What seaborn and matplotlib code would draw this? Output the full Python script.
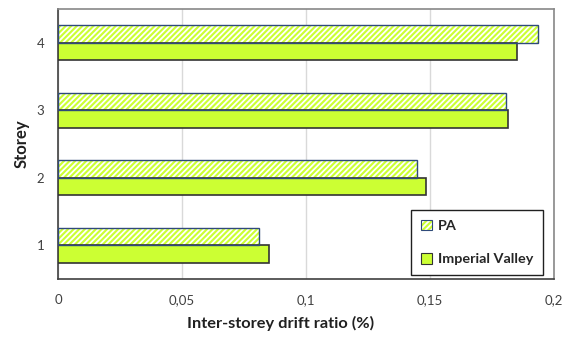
import matplotlib
matplotlib.use("Agg")
import matplotlib.pyplot as plt
from matplotlib.patches import Rectangle, Patch
from matplotlib.ticker import FixedLocator, FixedFormatter
import seaborn as sns
import pandas as pd

# Peak inter-storey drift ratio (%) per storey
storeys = ["4", "3", "2", "1"]
pa_drift = [0.1935, 0.1806, 0.1448, 0.0809]
iv_drift = [0.1850, 0.1814, 0.1484, 0.0849]
series = ["PA", "Imperial Valley"]
x_ticks = [0, 0.05, 0.1, 0.15, 0.2]
x_tick_labels = ["0", "0,05", "0,1", "0,15", "0,2"]

df = pd.DataFrame({
    "Storey": storeys * 2,
    "Drift": pa_drift + iv_drift,
    "Record": [series[0]] * len(storeys) + [series[1]] * len(storeys),
})

sns.set_style("white")
plt.rcParams["font.family"] = ["Lato", "DejaVu Sans"]
plt.rcParams["hatch.linewidth"] = 1.3

FILL = "#CCFF33"
PA_EDGE = "#2F4A7A"
IV_EDGE = "#333333"
HATCH = "//////"


def white_hatch(patch):
    try:
        patch.set_hatchcolor("white")
    except AttributeError:
        patch._hatch_color = (1, 1, 1, 1)


fig = plt.figure(figsize=(5.70, 3.38), dpi=100)
ax = fig.add_axes([0.1018, 0.1746, 0.8701, 0.7988])

sns.barplot(data=df, x="Drift", y="Storey", hue="Record", order=storeys,
            hue_order=series, orient="h", width=0.52, gap=0,
            palette=[FILL, FILL], saturation=1, legend=False, ax=ax, zorder=3)

n = len(storeys)
bars = list(ax.patches)
for i, bar in enumerate(bars):
    if i < n:
        # hatched bar: white diagonal stripes, then a blue outline on top
        bar.set_edgecolor("white")
        bar.set_linewidth(0)
        bar.set_hatch(HATCH)
        white_hatch(bar)
        ax.add_patch(Rectangle(bar.get_xy(), bar.get_width(), bar.get_height(),
                               facecolor="none", edgecolor=PA_EDGE,
                               linewidth=1.0, zorder=4))
    else:
        bar.set_edgecolor(IV_EDGE)
        bar.set_linewidth(1.2)

ax.set_xlim(0, 0.2)
ax.set_ylim(3.5, -0.5)
ax.xaxis.set_major_locator(FixedLocator(x_ticks))
ax.xaxis.set_major_formatter(FixedFormatter(x_tick_labels))
ax.grid(axis="x", color="#D9D9D9", linewidth=1.0, zorder=0)
ax.set_axisbelow(True)
ax.tick_params(axis="both", length=0, labelsize=9.5, labelcolor="#404040")
ax.tick_params(axis="x", pad=11)
ax.tick_params(axis="y", pad=10)

for side, sp in ax.spines.items():
    sp.set_visible(True)
    sp.set_color("#888888")
    sp.set_linewidth(1.2)
ax.spines["left"].set_color("#404040")
ax.spines["bottom"].set_color("#404040")

ax.set_xlabel("Inter-storey drift ratio (%)", fontsize=11.8, fontweight="bold",
              color="#202020")
ax.set_ylabel("Storey", fontsize=12, fontweight="bold", color="#202020")
ax.xaxis.set_label_coords(0.448, -0.137)
ax.yaxis.set_label_coords(-0.058, 0.5)

# legend
pa_handle = Patch(facecolor=FILL, edgecolor=PA_EDGE, hatch="//////", linewidth=0.8)
white_hatch(pa_handle)
iv_handle = Patch(facecolor=FILL, edgecolor=IV_EDGE, linewidth=0.8)
leg = ax.legend([pa_handle, iv_handle], series,
                loc="lower right", bbox_to_anchor=(0.9785, 0.013),
                fancybox=False, framealpha=1,
                edgecolor="#202020", handlelength=0.75, handleheight=0.75,
                handletextpad=0.4, labelspacing=1.45, borderpad=0.7,
                borderaxespad=0, prop={"weight": "bold", "size": 10.4})
leg.get_frame().set_linewidth(1.0)
leg.set_zorder(10)

fig.savefig("out.png", dpi=100)
